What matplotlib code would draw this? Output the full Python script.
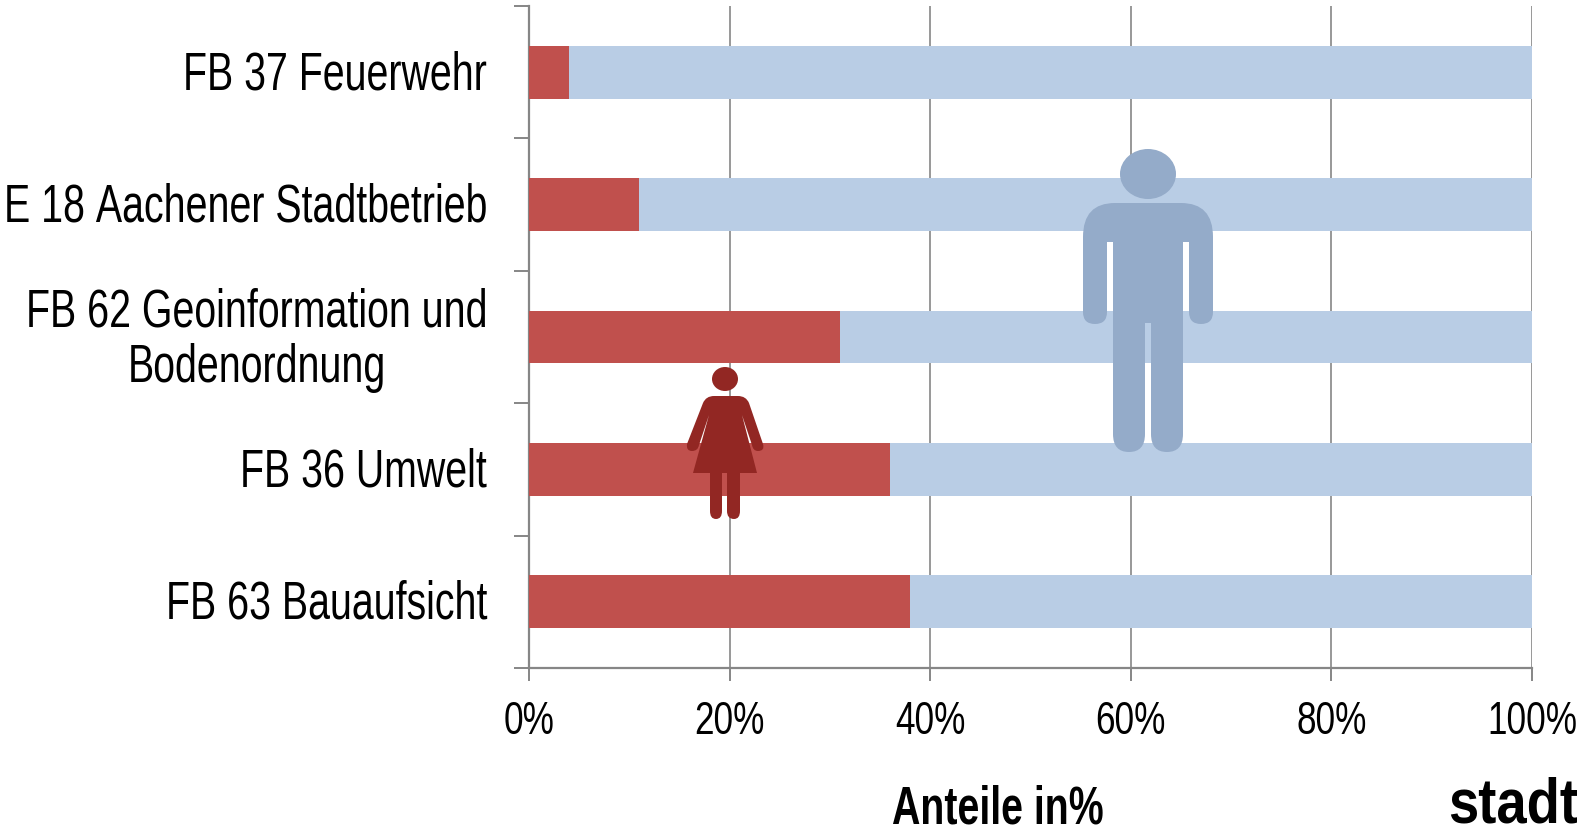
#!/usr/bin/env python3
# Stacked share of women / men per department, with the two pictograms on top.
import os
import tempfile

import matplotlib
matplotlib.use("Agg")
import matplotlib.pyplot as plt  # noqa: E402
from fontTools.ttLib import TTFont  # noqa: E402
from matplotlib import font_manager as fm  # noqa: E402
from matplotlib.patches import Ellipse, PathPatch  # noqa: E402
from matplotlib.path import Path  # noqa: E402
from matplotlib.transforms import ScaledTranslation  # noqa: E402

W, H = 1577, 829
GREY = "#868686"
RED = "#c0504d"
BLUE = "#b9cde5"
MAN = "#94abc9"
WOMAN = "#922723"

departments = ["FB 37 Feuerwehr", "E 18 Aachener Stadtbetrieb",
               "FB 62 Geoinformation und\nBodenordnung", "FB 36 Umwelt",
               "FB 63 Bauaufsicht"]
women = [4, 11, 31, 36, 38]
men = [96, 89, 69, 64, 62]
xticks = [0, 20, 40, 60, 80, 100]


def squeezed_font(weight, family, sx):
    """The reference text is Arial squeezed sideways, so build that from Liberation Sans."""
    src = fm.findfont(fm.FontProperties(family="Liberation Sans", weight=weight))
    f = TTFont(src)
    glyf, hmtx = f["glyf"], f["hmtx"]
    for name in f.getGlyphOrder():
        g = glyf[name]
        if g.isComposite():
            for c in g.components:
                c.x = round(c.x * sx)
        elif g.numberOfContours > 0:
            g.coordinates.scale((sx, 1))
            g.coordinates.toInt()
            if hasattr(g, "program"):
                g.program.fromBytecode([])
        adv, lsb = hmtx[name]
        hmtx[name] = (round(adv * sx), round(lsb * sx))
    for name in f.getGlyphOrder():
        glyf[name].recalcBounds(glyf)
    for tag in ("kern", "GPOS", "GSUB", "fpgm", "prep", "cvt ", "hdmx", "VDMX", "LTSH"):
        if tag in f:
            del f[tag]
    for rec in f["name"].names:
        if rec.nameID in (1, 16):
            rec.string = family
    out = os.path.join(tempfile.mkdtemp(), family.replace(" ", "") + ".ttf")
    f.save(out)
    fm.fontManager.addfont(out)
    return family


NARROW = squeezed_font("regular", "Squeezed Sans", 0.745)
squeezed_font("bold", "Squeezed Sans", 0.745)
LOGO = squeezed_font("bold", "Squeezed Logo", 0.87)


def curve_path(start, steps):
    """steps are (x, y) for a line or (cx, cy, x, y) for a quadratic curve."""
    verts, codes = [start], [Path.MOVETO]
    for s in steps:
        if len(s) == 2:
            verts.append(s)
            codes.append(Path.LINETO)
        else:
            verts += [s[:2], s[2:]]
            codes += [Path.CURVE3, Path.CURVE3]
    verts.append(start)
    codes.append(Path.CLOSEPOLY)
    return Path(verts, codes)


plt.rcParams["font.family"] = [NARROW, "Liberation Sans"]
fig = plt.figure(figsize=(W / 100, H / 100), dpi=100)
L, R, T, B = 529, 1532, 7, 669
ax = fig.add_axes([L / W, 1 - B / H, (R - L) / W, (B - T) / H])

ypos = list(range(len(departments)))
ax.barh(ypos, women, height=0.4, color=RED, zorder=3)
ax.barh(ypos, men, left=women, height=0.4, color=BLUE, zorder=3)
ax.set_xlim(0, 100)
ax.set_ylim(len(departments) - 0.5, -0.5)

ax.set_xticks(xticks)
ax.set_xticklabels([f"{v}%" for v in xticks])
ax.set_yticks(ypos)
ax.set_yticklabels(departments, ma="center", linespacing=1.14)
ax.set_yticks([i - 0.5 for i in range(len(departments) + 1)], minor=True)
ax.grid(axis="x", color=GREY, lw=1.2, zorder=0)
ax.set_axisbelow(True)
ax.tick_params(axis="y", which="major", length=0, pad=30, labelsize=38)
ax.tick_params(axis="y", which="minor", length=11, width=1.4, color=GREY)
ax.tick_params(axis="x", length=9.5, width=1.4, color=GREY, pad=13, labelsize=34)
for lab in ax.get_yticklabels():
    up = 5.5 if "\n" in lab.get_text() else 3.5
    lab.set_transform(lab.get_transform() + ScaledTranslation(0, up / 100, fig.dpi_scale_trans))
for side in ("top", "right"):
    ax.spines[side].set_visible(False)
for side in ("left", "bottom"):
    ax.spines[side].set_color(GREY)
    ax.spines[side].set_linewidth(1.6)

# overlay in pixel coordinates for pictograms and free text
ov = fig.add_axes([0, 0, 1, 1], zorder=5)
ov.set_xlim(0, W)
ov.set_ylim(H, 0)
ov.axis("off")

ov.add_patch(Ellipse((1148, 175), 56, 50, color=MAN, lw=0))
man = curve_path((1083, 238), [
    (1083, 204, 1115, 204), (1181, 204), (1213, 204, 1213, 238), (1213, 313),
    (1213, 325, 1201, 325), (1189, 325, 1189, 313), (1189, 243), (1183, 243),
    (1183, 435), (1183, 453, 1167, 453), (1151, 453, 1151, 435), (1151, 324),
    (1145, 324), (1145, 435), (1145, 453, 1129, 453), (1113, 453, 1113, 435),
    (1113, 243), (1107, 243), (1107, 313), (1107, 325, 1095, 325),
    (1083, 325, 1083, 313)])
ov.add_patch(PathPatch(man, fc=MAN, lw=0))

ov.add_patch(Ellipse((725, 380), 26, 24, color=WOMAN, lw=0))
woman = curve_path((703, 404), [
    (706, 397, 714, 397), (738, 397), (746, 397, 749, 404), (763, 445),
    (765, 452, 758, 452), (753, 452, 752, 446), (742, 416), (757, 474),
    (740, 474), (740, 512), (740, 520, 734, 520), (727, 520, 727, 512),
    (727, 474), (722, 474), (722, 512), (722, 520, 716, 520),
    (710, 520, 710, 512), (710, 474), (693, 474), (709, 416), (699, 446),
    (698, 452, 692, 452), (686, 452, 687, 445)])
ov.add_patch(PathPatch(woman, fc=WOMAN, lw=0))

ov.text(998, 810, "Anteile in%", ha="center", va="center", fontsize=38, fontweight="bold")
ov.text(1448, 823, "stadt", ha="left", va="baseline", fontsize=45, fontweight="bold",
        family=[LOGO])

fig.savefig("out.png", dpi=100)
